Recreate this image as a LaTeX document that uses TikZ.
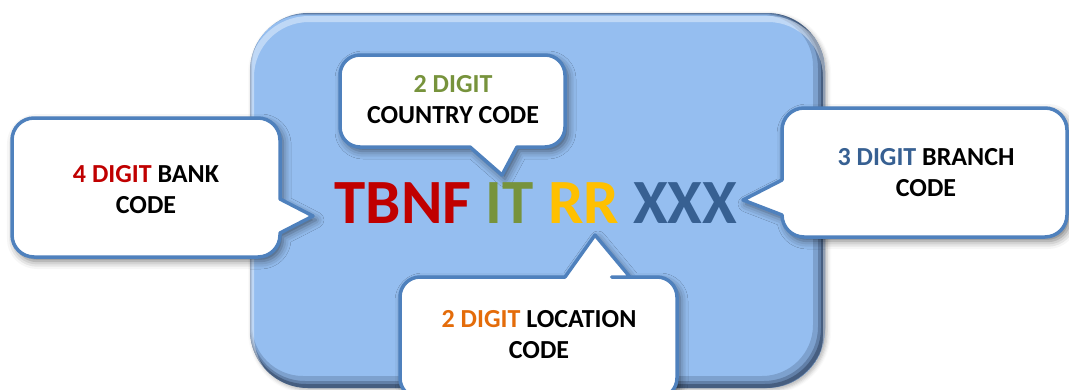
\documentclass[tikz,border=0pt]{standalone}
\usepackage{fontspec}
\setmainfont{Carlito}
\usetikzlibrary{shadows.blur}
\definecolor{boxblue}{RGB}{149,190,240}
\definecolor{edgeblue}{RGB}{79,129,189}
\definecolor{cred}{RGB}{192,0,0}
\definecolor{cgreen}{RGB}{119,147,60}
\definecolor{cyellow}{RGB}{255,192,0}
\definecolor{cblue}{RGB}{55,96,146}
\definecolor{corange}{RGB}{228,108,10}
\definecolor{bevel}{RGB}{20,32,55}
\begin{document}
\begin{tikzpicture}[x=1pt,y=-1pt,
  callout/.style={fill=white, draw=edgeblue, line width=3.5pt, line join=round,
    blur shadow={shadow xshift=3pt, shadow yshift=-4pt, shadow blur radius=8pt, shadow opacity=55}},
  calltext/.style={font=\fontsize{26}{31}\selectfont\bfseries, align=center, text=black, inner sep=0pt},
  bigbox/.style={rounded corners=58pt},
]
\useasboundingbox (0,0) rectangle (1069,389);
% main rounded box
\path[bigbox, fill=boxblue, blur shadow={shadow xshift=2pt, shadow yshift=-2pt, shadow blur radius=4pt, shadow opacity=30}]
  (250,13) rectangle (825,388);
\begin{scope}
  \clip[bigbox] (250,13) rectangle (825,388);
  \draw[bigbox, bevel, opacity=0.18, line width=14pt] (245,8) rectangle (820,383);
  \draw[bigbox, bevel, opacity=0.25, line width=8pt] (247,10) rectangle (822,385);
  \draw[bigbox, bevel, opacity=0.35, line width=4pt] (248,11) rectangle (823,386);
  \draw[bigbox, white, opacity=0.4, line width=6pt] (251,19) rectangle (826,394);
\end{scope}
% callouts
\path[callout] (280,160) -- (280,199) -- (313,216) -- (280,233) [rounded corners=22pt] -- (280,257) -- (12,257)
  -- (12,118) -- (280,118) -- cycle;
\path[callout] (450,147) -- (470,147) -- (502,175) -- (517,147) [rounded corners=20pt] -- (565,147) -- (565,55)
  -- (340,55) -- (340,147) -- cycle;
\path[callout] (900,108) [rounded corners=22pt] -- (1067,108) -- (1067,237) -- (782,237)
  [sharp corners] -- (782,215) -- (743,200) -- (782,180) [rounded corners=22pt] -- (782,108) -- cycle;
\path[callout] (600,277) -- (630,277) -- (595,235) -- (565,277) [rounded corners=20pt] -- (400,277) -- (400,398)
  -- (677,398) -- (677,277) -- cycle;
% texts
\node[anchor=base, inner sep=0pt, font=\fontsize{63}{70}\selectfont\bfseries] (iban) at (536,223)
  {\textcolor{cred}{TBNF} \textcolor{cgreen}{IT} \textcolor{cyellow}{RR} \textcolor{cblue}{XXX}};
\node[calltext] (bank) at (146,190) {\textcolor{cred}{4 DIGIT} BANK\\CODE};
\node[calltext] (country) at (453,99.5) {\textcolor{cgreen}{2 DIGIT}\\COUNTRY CODE};
\node[calltext] (branch) at (926,172.5) {\textcolor{cblue}{3 DIGIT} BRANCH\\CODE};
\node[calltext] (location) at (539,334.5) {\textcolor{corange}{2 DIGIT} LOCATION\\CODE};
\end{tikzpicture}
\end{document}
